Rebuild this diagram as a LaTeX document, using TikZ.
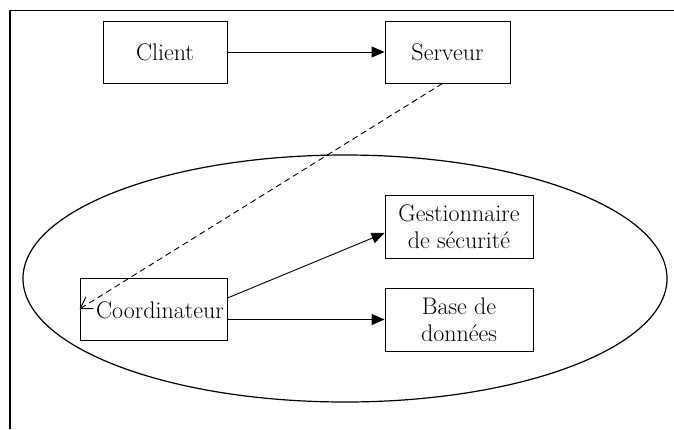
\documentclass[tikz,border=0pt]{standalone}
\usetikzlibrary{arrows.meta,calc}
\begin{document}
\begin{tikzpicture}[x=1pt,y=-1pt,
  box/.style={draw,line width=0.9pt,inner sep=0pt,align=center,
    font=\fontsize{24}{27}\selectfont},
  lbl/.style={inner sep=0pt,font=\fontsize{24}{27}\selectfont},
  arr/.style={line width=0.9pt,-{Triangle[length=13pt,width=11pt]}},
  dasharr/.style={line width=0.9pt,dash pattern=on 6pt off 4pt,
    -{Straight Barb[length=11pt,width=14pt,line width=0.9pt]}}]
\useasboundingbox (0,0) rectangle (674,429);

% page frame (top and left edges)
\draw[line width=1.8pt] (10,429) -- (10,10.5) -- (674,10.5);

% enclosing ellipse
\draw[line width=1.2pt] (345,278.5) ellipse [x radius=322, y radius=123.5];

% boxes
\node[box,minimum width=124pt,minimum height=62pt] (client) at (165,52) {Client};
\node[box,minimum width=125pt,minimum height=62pt] (serv) at (447.5,52) {Serveur};
\node[box,minimum width=148pt,minimum height=63pt] (gest) at (459,226.5) {Gestionnaire\\de sécurité};
\node[box,minimum width=148pt,minimum height=63pt] (base) at (459,319.5) {Base de\\données};
\node[box,minimum width=147pt,minimum height=62pt] (coord) at (153.5,309) {};
\node[lbl] (coordtxt) at (160,310) {Coordinateur};

% connectors
\draw[arr] (client) -- (serv);
\draw[dasharr] ($(serv.south)+(-5,0)$) -- (coord.west);
\draw[arr] ($(coord.east)+(0,-11)$) -- ($(gest.west)+(0,6.5)$);
\draw[arr] (coord.east |- base.west) -- (base.west);
\end{tikzpicture}
\end{document}
